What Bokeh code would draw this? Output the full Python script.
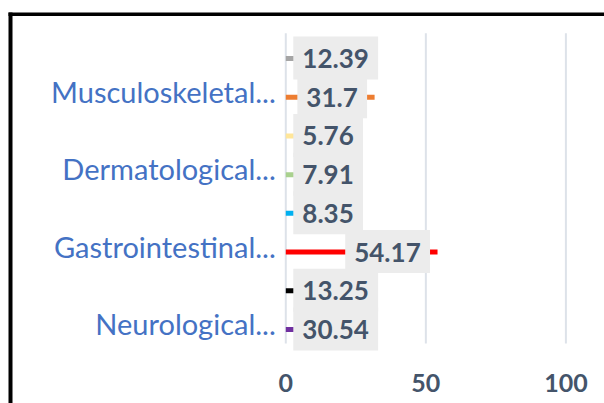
from bokeh.plotting import figure
from bokeh.models import Range1d
from bokeh.core.properties import value
from bokeh.embed import file_html
from bokeh.resources import INLINE

# ---- data (bottom to top, Excel order) ----
categories = ["Neurological...", "", "Gastrointestinal...", "", "Dermatological...", "", "Musculoskeletal...", ""]
values = [30.54, 13.25, 54.17, 8.35, 7.91, 5.76, 31.7, 12.39]
colors = ["#7030A0", "#000000", "#FF0000", "#00B0F0", "#A9D18E", "#FFE699", "#ED7D31", "#A5A5A5"]
x_ticks = [0, 50, 100]

# ---- layout ----
W, H = 604, 403
pxx = 2.801
pxy = 38.71
X0 = -285.3 / pxx
X1 = X0 + W / pxx
Y1 = 329 / pxy
Y0 = Y1 - H / pxy

p = figure(width=W, height=H, x_range=Range1d(X0, X1), y_range=Range1d(Y0, Y1),
           x_axis_type=None, y_axis_type=None, toolbar_location=None,
           output_backend="svg", min_border=0, outline_line_color=None)
p.background_fill_color = "white"
p.border_fill_color = "white"

idx = list(range(len(values)))

# vertical gridlines
p.segment(x0=x_ticks, y0=[-0.36] * len(x_ticks), x1=x_ticks, y1=[7.65] * len(x_ticks),
          line_color="#dde2e9", line_width=2)

# bars
p.hbar(y=idx, left=0, right=values, height=5 / pxy, fill_color=colors, line_color=None)

# data labels (Excel "inside end", clamped at the base)
FS = 26
labels = [str(v) for v in values]
box_l, box_r, box_b, box_t, txt_x = [], [], [], [], []
for i, (v, s) in enumerate(zip(values, labels)):
    tw = sum(0.25 * FS if c == "." else 0.58 * FS for c in s)
    bw = tw + 18
    right = v * pxx - 7.5
    left = right - bw
    if left < 7.5:
        left = 7.5
        right = left + bw
    box_l.append(left / pxx)
    box_r.append(right / pxx)
    box_b.append(i + 0.5 / pxy - 21.5 / pxy)
    box_t.append(i + 0.5 / pxy + 21.5 / pxy)
    txt_x.append((left + 9) / pxx)

p.quad(left=box_l, right=box_r, bottom=box_b, top=box_t, fill_color="#ececec", line_color=None)
p.text(x=txt_x, y=idx, text=labels, text_font=value("Lato"), text_font_style="bold",
       text_font_size=f"{FS}px", text_color="#44546A", text_baseline="middle", text_align="left")

# category labels (Excel shows every other one)
cat_y = [i + 6 / pxy for i, c in enumerate(categories) if c]
cat_t = [c for c in categories if c]
p.text(x=[-10 / pxx] * len(cat_t), y=cat_y, text=cat_t, text_font=value("Lato"),
       text_font_size="29px", text_color="#4472C4", text_align="right", text_baseline="middle")

# x tick labels
p.text(x=x_ticks, y=[Y1 - 382.5 / pxy] * len(x_ticks), text=[str(t) for t in x_ticks],
       text_font=value("Lato"), text_font_style="bold", text_font_size="25px",
       text_color="#44546A", text_align="center", text_baseline="middle")

# chart border (cropped at right and bottom)
p.segment(x0=[X0 + 10 / pxx], y0=[Y0], x1=[X0 + 10 / pxx], y1=[Y1 - 12 / pxy],
          line_color="black", line_width=4)
p.segment(x0=[X0 + 8 / pxx], y0=[Y1 - 13.75 / pxy], x1=[X1], y1=[Y1 - 13.75 / pxy],
          line_color="black", line_width=3.5)

open("out.html", "w").write(file_html(p, INLINE))
